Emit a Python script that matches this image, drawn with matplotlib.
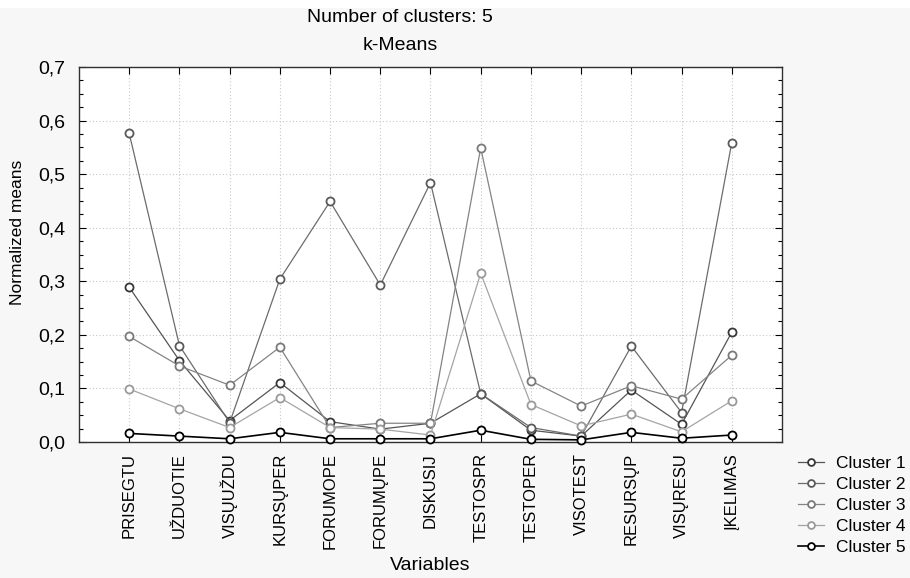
import matplotlib
matplotlib.use("Agg")
import matplotlib.pyplot as plt
from matplotlib.ticker import MultipleLocator, FuncFormatter
from matplotlib.patches import Rectangle

plt.rcParams['font.family'] = ['Liberation Sans', 'DejaVu Sans']

variables = ["PRISEGTU", "UŽDUOTIE", "VISŲUŽDU", "KURSŲPER", "FORUMOPE", "FORUMŲPE",
             "DISKUSIJ", "TESTOSPR", "TESTOPER", "VISOTEST", "RESURSŲP", "VISŲRESU", "ĮKELIMAS"]

cluster1 = [0.289, 0.152, 0.040, 0.111, 0.038, 0.024, 0.035, 0.090, 0.022, 0.011, 0.097, 0.033, 0.205]
cluster2 = [0.576, 0.180, 0.036, 0.304, 0.449, 0.293, 0.484, 0.090, 0.027, 0.011, 0.179, 0.055, 0.559]
cluster3 = [0.197, 0.142, 0.106, 0.177, 0.027, 0.035, 0.035, 0.549, 0.114, 0.067, 0.105, 0.080, 0.162]
cluster4 = [0.099, 0.062, 0.027, 0.083, 0.027, 0.024, 0.013, 0.315, 0.070, 0.030, 0.052, 0.019, 0.077]
cluster5 = [0.016, 0.011, 0.006, 0.018, 0.006, 0.006, 0.006, 0.022, 0.005, 0.004, 0.018, 0.007, 0.013]

series = [cluster1, cluster2, cluster3, cluster4, cluster5]
names = ["Cluster 1", "Cluster 2", "Cluster 3", "Cluster 4", "Cluster 5"]
line_colors = ["#555555", "#6c6c6c", "#848484", "#a4a4a4", "#000000"]
edge_colors = ["#383838", "#5a5a5a", "#7a7a7a", "#9a9a9a", "#000000"]
lws = [0.9, 0.9, 0.9, 0.9, 1.2]

fig = plt.figure(figsize=(9.10, 5.78), dpi=100, facecolor="#f7f7f7")
fig.patches.append(Rectangle((0, 1 - 8/578), 1, 8/578, transform=fig.transFigure,
                             facecolor="white", edgecolor="none", zorder=0))
ax = fig.add_axes([79/910, 136/578, 703/910, 375/578])
ax.set_facecolor("white")

x = list(range(len(variables)))
for vals, nm, lc, ec, lw in zip(series, names, line_colors, edge_colors, lws):
    ax.plot(x, vals, color=lc, lw=lw, marker="o", markersize=5.8,
            markerfacecolor="white", markeredgecolor=ec, markeredgewidth=1.3,
            label=nm, clip_on=False, zorder=3)

ax.set_xlim(-1, 13)
ax.set_ylim(0, 0.7)
ax.set_xticks(x)
ax.set_xticklabels(variables, rotation=90, fontsize=12)
ax.yaxis.set_major_locator(MultipleLocator(0.1))
ax.yaxis.set_minor_locator(MultipleLocator(0.025))
ax.yaxis.set_major_formatter(FuncFormatter(lambda v, p: f"{v:.1f}".replace(".", ",")))
ax.tick_params(axis="y", which="both", direction="in", left=True, right=True, labelsize=14, pad=10)
ax.tick_params(axis="y", which="major", length=5, width=0.8)
ax.tick_params(axis="y", which="minor", length=3, width=0.8)
ax.tick_params(axis="x", direction="in", top=True, bottom=True, length=5, width=0.8, pad=8)
ax.grid(True, which="major", color="#c8c8c8", linestyle=(0, (1, 2)), linewidth=0.8)
for s in ax.spines.values():
    s.set_color("#303030")
    s.set_linewidth(1.0)

fig.text(18/910, 1 - 232/578, "Normalized means", rotation=90, ha="center", va="center", fontsize=12.5)
fig.text(430/910, 1 - 566/578, "Variables", ha="center", va="center", fontsize=14)
fig.text(400/910, 1 - 18/578, "Number of clusters: 5", ha="center", va="center", fontsize=14)
fig.text(400/910, 1 - 45/578, "k-Means", ha="center", va="center", fontsize=14)

leg = ax.legend(loc="upper left", bbox_to_anchor=(798/910, 1 - 456/578),
                bbox_transform=fig.transFigure, frameon=False, fontsize=12.5,
                handlelength=1.5, handletextpad=0.7, labelspacing=0.33,
                borderaxespad=0, borderpad=0, markerscale=0.85)

fig.savefig("out.png", dpi=100, facecolor=fig.get_facecolor())
